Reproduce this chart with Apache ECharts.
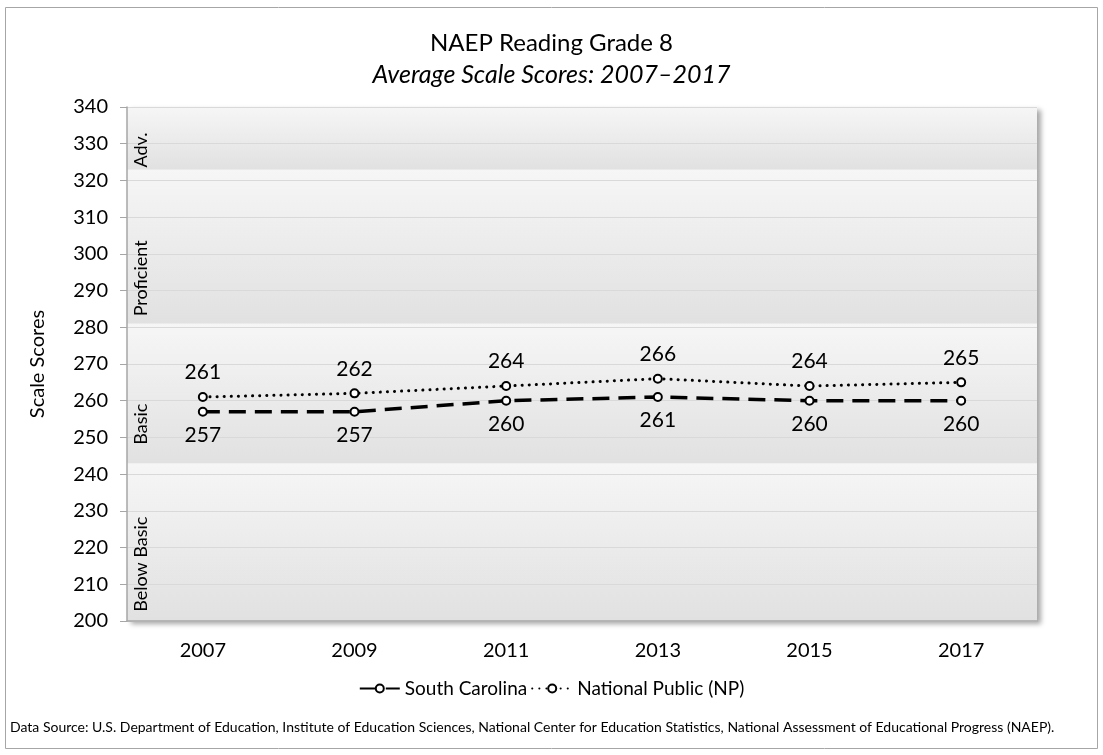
<html>
    <head>
        <meta charset="utf-8">
        <script src='https://cdn.jsdelivr.net/npm/echarts@6/dist/echarts.min.js'></script>
    </head>
    <body>
        <style>
            html, body, #main {
                width: 100%;
                height: 100%;
                margin: 0;
                background: #fff;
            }
        </style>
        <div id='main'></div>
        <script>
            var years = ['2007', '2009', '2011', '2013', '2015', '2017'];
            var southCarolina = [257, 257, 260, 261, 260, 260];
            var nationalPublic = [261, 262, 264, 266, 264, 265];
            // achievement level bands [from, to, label, label bottom value]
            var bands = [
                [200, 243, 'Below Basic', 202.5],
                [243, 281, 'Basic', 248],
                [281, 323, 'Proficient', 283],
                [323, 340, 'Adv.', 323.5]
            ];

            var FONT = 'Lato';
            var chart = echarts.init(document.getElementById('main'));

            var bandAreas = bands.map(function (b) {
                return [{
                    yAxis: b[1],
                    itemStyle: {
                        color: new echarts.graphic.LinearGradient(0, 0, 0, 1, [
                            { offset: 0, color: '#f6f6f6' },
                            { offset: 1, color: '#e1e1e1' }
                        ])
                    }
                }, { yAxis: b[0] }];
            });

            var option = {
                animation: false,
                textStyle: { fontFamily: FONT },
                title: {
                    text: 'NAEP Reading Grade 8',
                    subtext: 'Average Scale Scores: 2007\u20132017',
                    left: 'center',
                    top: 26,
                    itemGap: 7,
                    textStyle: { fontFamily: FONT, fontSize: 24, fontWeight: 'normal', color: '#000' },
                    subtextStyle: { fontFamily: FONT, fontSize: 25, fontStyle: 'italic', color: '#000' }
                },
                legend: {
                    bottom: 52,
                    left: 'center',
                    itemWidth: 40,
                    itemHeight: 10,
                    itemGap: 4,
                    textStyle: { fontFamily: FONT, fontSize: 19, color: '#000' },
                    data: ['South Carolina', 'National Public (NP)']
                },
                grid: {
                    left: 127,
                    right: 66,
                    top: 107,
                    bottom: 134,
                    show: true,
                    backgroundColor: '#f3f3f3',
                    borderWidth: 0,
                    shadowColor: 'rgba(0,0,0,0.35)',
                    shadowBlur: 5,
                    shadowOffsetX: 4,
                    shadowOffsetY: 3
                },
                xAxis: {
                    type: 'category',
                    data: years,
                    boundaryGap: true,
                    z: 2,
                    axisLine: { lineStyle: { color: '#a6a6a6', width: 1.5 } },
                    axisTick: { length: 6, lineStyle: { color: '#a6a6a6' } },
                    axisLabel: { fontFamily: FONT, fontSize: 20, color: '#000', margin: 20 }
                },
                yAxis: {
                    type: 'value',
                    min: 200,
                    max: 340,
                    interval: 10,
                    name: 'Scale Scores',
                    nameLocation: 'middle',
                    nameGap: 79,
                    z: 2,
                    nameTextStyle: { fontFamily: FONT, fontSize: 20, color: '#000' },
                    axisLine: { show: true, lineStyle: { color: '#a6a6a6', width: 1.5 } },
                    axisTick: { show: true, length: 7, lineStyle: { color: '#a6a6a6' } },
                    axisLabel: { fontFamily: FONT, fontSize: 20, color: '#000', margin: 19 },
                    splitLine: { lineStyle: { color: '#d9d9d9', width: 1 } }
                },
                series: [{
                    // background achievement bands, drawn under the grid lines
                    name: 'bands',
                    type: 'line',
                    data: [],
                    silent: true,
                    z: 1,
                    markArea: { silent: true, data: bandAreas }
                }, {
                    name: 'South Carolina',
                    type: 'line',
                    data: southCarolina,
                    symbol: 'circle',
                    symbolSize: 8,
                    itemStyle: { color: '#fff', borderColor: '#000', borderWidth: 2 },
                    lineStyle: { color: '#000', width: 3.5, type: [17, 9] },
                    label: { show: true, position: 'bottom', distance: 8, fontFamily: FONT, fontSize: 21, color: '#000' },
                    z: 3
                }, {
                    name: 'National Public (NP)',
                    type: 'line',
                    data: nationalPublic,
                    symbol: 'circle',
                    symbolSize: 8,
                    itemStyle: { color: '#fff', borderColor: '#000', borderWidth: 2 },
                    lineStyle: { color: '#000', width: 3, type: [0.1, 7], cap: 'round' },
                    label: { show: true, position: 'top', distance: 9, fontFamily: FONT, fontSize: 21, color: '#000' },
                    z: 3
                }]
            };

            chart.setOption(option);

            // band labels, outer border, source note
            var graphics = [{
                type: 'rect',
                shape: { x: 5.5, y: 7.5, width: 1092, height: 741 },
                style: { fill: null, stroke: '#a6a6a6', lineWidth: 1 },
                z: -10
            }, {
                type: 'text',
                left: 10,
                top: 720,
                style: {
                    text: 'Data Source: U.S. Department of Education, Institute of Education Sciences, National Center for Education Statistics, National Assessment of Educational Progress (NAEP).',
                    font: '14px ' + FONT,
                    fill: '#000'
                }
            }];
            bands.forEach(function (b) {
                var p = chart.convertToPixel({ gridIndex: 0 }, [0, b[3]]);
                graphics.push({
                    type: 'text',
                    x: 141,
                    y: p[1],
                    rotation: Math.PI / 2,
                    style: {
                        text: b[2],
                        font: '18px ' + FONT,
                        fill: '#000',
                        align: 'left',
                        verticalAlign: 'middle'
                    },
                    z: 10
                });
            });
            chart.setOption({ graphic: graphics });

            window.onresize = chart.resize;
        </script>
    </body>
</html>
